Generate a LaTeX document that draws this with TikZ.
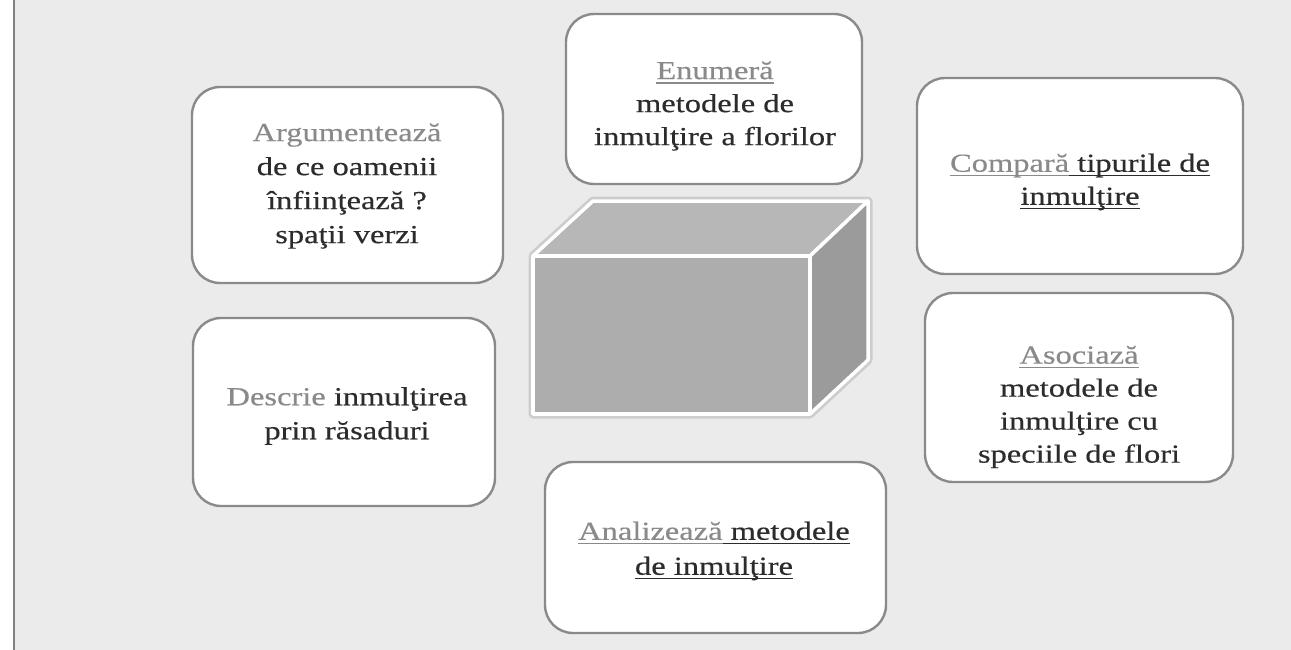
\documentclass[tikz,border=0pt]{standalone}
\usepackage{fontspec}
\setmainfont[FakeStretch=1.25,FakeBold=0.4]{Liberation Serif}
\newcommand{\myul}[1]{\leavevmode\setbox0\hbox{#1}\rlap{\rule[-4.5pt]{\wd0}{1.3pt}}\box0}
\definecolor{bgc}{HTML}{EBEBEB}
\definecolor{cardline}{HTML}{8A8A8A}
\definecolor{verb}{HTML}{8A8A8A}
\definecolor{txt}{HTML}{2C2C2C}
\definecolor{cfront}{HTML}{ADADAD}
\definecolor{ctop}{HTML}{B7B7B7}
\definecolor{cside}{HTML}{9B9B9B}
\definecolor{halo}{HTML}{CDCDCD}
\newcommand{\vb}[1]{\textcolor{verb}{#1}}
\begin{document}
\begin{tikzpicture}[x=1pt,y=-1pt,
  card/.style={draw=cardline, line width=2.4pt, fill=white, rounded corners=28pt, inner sep=0pt},
  cardtext/.style={align=center, text=txt, inner sep=0pt, font=\fontsize{26pt}{33pt}\selectfont},
  face/.style={draw=white, line width=3.5pt, line join=round}]
\useasboundingbox (0,0) rectangle (1291,650);
\fill[white] (0,0) rectangle (1291,650);
\fill[bgc] (14,0) rectangle (1291,650);
\draw[gray, line width=1.2pt] (14,0) -- (14,650);

% cards
\node[card, minimum width=311pt, minimum height=196pt] (arg) at (347.5,185) {};
\node[card, minimum width=296pt, minimum height=170pt] (enu) at (714,99) {};
\node[card, minimum width=326pt, minimum height=196pt] (cmp) at (1080,176) {};
\node[card, minimum width=308pt, minimum height=189pt] (aso) at (1079,387.5) {};
\node[card, minimum width=302pt, minimum height=188pt] (des) at (344,412) {};
\node[card, minimum width=341pt, minimum height=171pt] (ana) at (715.5,547.5) {};

% texts
\node[cardtext, font=\fontsize{26pt}{34pt}\selectfont] (argt) at (347,186)
  {\vb{Argumentează}\\de ce oamenii\\înfiinţează ?\\spaţii verzi};
\node[cardtext] (enut) at (715,106)
  {\textcolor{verb}{\myul{Enumeră}}\\metodele de\\inmulţire a florilor};
\node[cardtext] (cmpt) at (1080,182)
  {\textcolor{verb}{\myul{Compară}}\myul{ tipurile de}\\\myul{inmulţire}};
\node[cardtext] (asot) at (1079,407)
  {\textcolor{verb}{\myul{Asociază}}\\metodele de\\inmulţire cu\\speciile de flori};
\node[cardtext, font=\fontsize{26pt}{34pt}\selectfont] (dest) at (347,416)
  {\vb{Descrie} inmulţirea\\prin răsaduri};
\node[cardtext, font=\fontsize{26pt}{35pt}\selectfont] (anat) at (714,551)
  {\textcolor{verb}{\myul{Analizează}}\myul{ metodele}\\\myul{de inmulţire}};

% cube
\coordinate (F1) at (533,256);
\coordinate (F2) at (810,256);
\coordinate (F3) at (810,414);
\coordinate (F4) at (533,414);
\coordinate (B1) at (593,201);
\coordinate (B2) at (868,201);
\coordinate (B3) at (868,360);
\draw[halo, line width=9pt, line join=round] (F4) -- (F1) -- (B1) -- (B2) -- (B3) -- (F3) -- cycle;
\filldraw[face, fill=ctop] (F1) -- (B1) -- (B2) -- (F2) -- cycle;
\filldraw[face, fill=cside] (F2) -- (B2) -- (B3) -- (F3) -- cycle;
\filldraw[face, fill=cfront] (F1) -- (F2) -- (F3) -- (F4) -- cycle;
\end{tikzpicture}
\end{document}
